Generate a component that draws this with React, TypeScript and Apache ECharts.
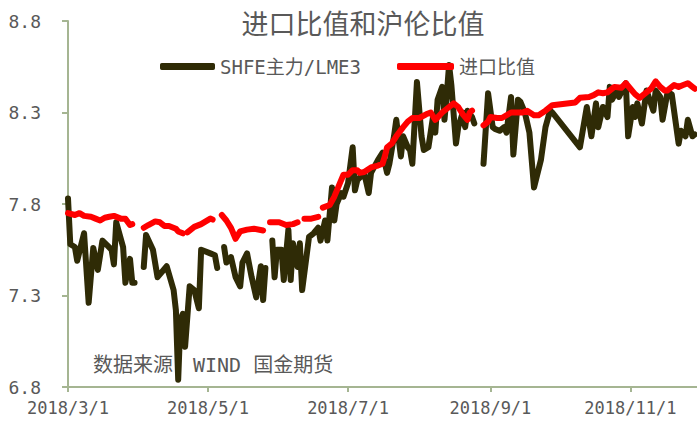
import React, { useEffect, useRef } from "react";
import * as echarts from "echarts";

const titleText = "进口比值和沪伦比值";
const sourceText = "数据来源：WIND 国金期货";
const seriesNames = ["SHFE主力/LME3", "进口比值"];
const xTickDates = ["2018-03-01", "2018-05-01", "2018-07-01", "2018-09-01", "2018-11-01"];
const xRange = ["2018-03-01", "2018-11-30"];
const yTicks = [6.8, 7.3, 7.8, 8.3, 8.8];

const darkDates = [
  "2018-03-01","2018-03-02","2018-03-04","2018-03-05","2018-03-08","2018-03-10","2018-03-12","2018-03-14","2018-03-16","2018-03-18",
  "2018-03-20","2018-03-21","2018-03-22","2018-03-25","2018-03-26","2018-03-28","2018-03-29","2018-03-30","2018-03-31",
  "2018-04-03","2018-04-04","2018-04-07","2018-04-09","2018-04-13","2018-04-16","2018-04-17","2018-04-18","2018-04-19","2018-04-20",
  "2018-04-21","2018-04-23","2018-04-25","2018-04-27","2018-04-28","2018-05-02","2018-05-04","2018-05-05","2018-05-06",
  "2018-05-08","2018-05-09","2018-05-11","2018-05-13","2018-05-15","2018-05-16","2018-05-18","2018-05-20","2018-05-22","2018-05-24",
  "2018-05-25","2018-05-26","2018-05-27",
  "2018-05-29","2018-05-30","2018-05-31","2018-06-02","2018-06-03","2018-06-05","2018-06-06","2018-06-07","2018-06-09","2018-06-10",
  "2018-06-11","2018-06-14","2018-06-16","2018-06-18","2018-06-19","2018-06-21","2018-06-22","2018-06-24","2018-06-25","2018-06-26",
  "2018-06-28","2018-06-29","2018-07-01","2018-07-03","2018-07-04","2018-07-05","2018-07-08","2018-07-10","2018-07-11","2018-07-14",
  "2018-07-16","2018-07-18","2018-07-19","2018-07-21","2018-07-22","2018-07-24","2018-07-25","2018-07-27","2018-07-28","2018-07-29",
  "2018-07-31","2018-08-02","2018-08-03","2018-08-05","2018-08-07","2018-08-08","2018-08-09","2018-08-11","2018-08-12","2018-08-13",
  "2018-08-14","2018-08-15","2018-08-17","2018-08-18","2018-08-20","2018-08-21","2018-08-22","2018-08-24","2018-08-25","2018-08-26",
  "2018-08-29","2018-08-31","2018-09-02","2018-09-03","2018-09-05","2018-09-07","2018-09-08","2018-09-10","2018-09-11","2018-09-13",
  "2018-09-14","2018-09-16","2018-09-18","2018-09-20","2018-09-23","2018-09-25","2018-09-27","2018-09-28","2018-10-10","2018-10-13",
  "2018-10-15","2018-10-17","2018-10-18","2018-10-20","2018-10-22","2018-10-23","2018-10-24","2018-10-26","2018-10-27","2018-10-30",
  "2018-10-31","2018-11-02","2018-11-03","2018-11-04","2018-11-06","2018-11-08","2018-11-11","2018-11-12","2018-11-14","2018-11-15",
  "2018-11-17","2018-11-18","2018-11-19","2018-11-22","2018-11-23","2018-11-25","2018-11-26","2018-11-28","2018-11-29"
];
const darkValues = [
  7.83,7.58,7.565,7.49,7.64,7.26,7.56,7.44,7.60,7.575,
  7.55,7.47,7.70,7.565,7.37,7.50,7.37,7.37,null,
  7.456,7.63,7.55,7.40,7.46,7.33,7.22,6.84,7.17,7.20,
  7.02,7.35,7.33,7.23,7.55,7.53,7.52,7.45,null,
  7.565,7.48,7.51,7.40,7.35,7.48,7.53,7.40,7.29,7.46,
  7.275,7.45,null,
  7.60,7.40,7.55,7.55,7.385,7.66,7.385,7.585,7.456,7.585,
  7.33,7.62,7.64,7.67,7.60,7.71,7.60,7.89,7.71,7.80,
  7.86,7.84,7.915,8.11,7.875,7.93,7.97,7.86,7.97,8.04,
  8.08,7.97,8.02,8.17,8.26,8.06,8.17,8.11,8.095,8.02,
  8.467,8.17,8.095,8.11,8.275,8.19,8.37,8.44,8.26,8.40,
  8.56,8.45,8.13,8.22,8.30,8.22,8.31,8.275,8.24,null,
  8.02,8.405,8.22,8.21,8.20,8.22,8.19,8.385,8.07,8.37,
  8.36,8.30,8.19,7.89,8.04,8.22,8.31,8.30,8.11,8.33,
  8.17,8.35,8.22,8.33,8.275,8.44,8.37,8.42,8.385,8.46,
  8.17,8.33,8.275,8.35,8.24,8.42,8.31,8.42,8.385,8.26,
  8.40,8.405,8.40,8.13,8.20,8.17,8.26,8.17,8.18
];

const redDates = [
  "2018-03-01","2018-03-04","2018-03-06","2018-03-08","2018-03-11","2018-03-13","2018-03-15","2018-03-17","2018-03-19","2018-03-21",
  "2018-03-24","2018-03-26","2018-03-28","2018-03-29","2018-03-31",
  "2018-04-03","2018-04-05","2018-04-08","2018-04-10","2018-04-12","2018-04-14","2018-04-17","2018-04-18","2018-04-20","2018-04-21",
  "2018-04-22","2018-04-25","2018-04-28","2018-04-30","2018-05-02","2018-05-03","2018-05-05",
  "2018-05-07","2018-05-09","2018-05-11","2018-05-13","2018-05-15","2018-05-18","2018-05-21","2018-05-25","2018-05-26",
  "2018-05-28","2018-06-01","2018-06-04","2018-06-07","2018-06-09","2018-06-10",
  "2018-06-12","2018-06-15","2018-06-18","2018-06-19",
  "2018-06-20","2018-06-23","2018-06-25","2018-06-28","2018-06-29","2018-07-01","2018-07-03","2018-07-05","2018-07-06","2018-07-08",
  "2018-07-11","2018-07-14","2018-07-16","2018-07-17","2018-07-18","2018-07-20","2018-07-22","2018-07-25","2018-07-27","2018-07-29",
  "2018-08-01","2018-08-04","2018-08-06","2018-08-08","2018-08-11","2018-08-14","2018-08-16","2018-08-18","2018-08-20","2018-08-22",
  "2018-08-23","2018-08-24","2018-08-26",
  "2018-08-29","2018-08-31","2018-09-01","2018-09-04","2018-09-06","2018-09-08","2018-09-10","2018-09-13","2018-09-15","2018-09-17",
  "2018-09-20","2018-09-22","2018-09-25","2018-09-28","2018-10-08","2018-10-10","2018-10-14","2018-10-16","2018-10-18","2018-10-20",
  "2018-10-22","2018-10-25","2018-10-28","2018-10-30","2018-11-01","2018-11-03","2018-11-05","2018-11-07","2018-11-10","2018-11-12",
  "2018-11-14","2018-11-16","2018-11-17","2018-11-20","2018-11-22","2018-11-24","2018-11-26","2018-11-28","2018-11-29"
];
const redValues = [
  7.75,7.74,7.75,7.735,7.73,7.72,7.71,7.725,7.73,7.735,
  7.72,7.72,7.685,7.69,null,
  7.67,7.685,7.705,7.70,7.68,7.68,7.665,7.65,7.64,null,
  7.645,7.675,7.69,7.705,7.72,7.715,null,
  7.74,7.71,7.67,7.61,7.65,7.66,7.665,7.655,null,
  7.70,7.70,7.685,7.69,7.70,null,
  7.72,7.72,7.73,null,
  7.78,7.795,7.84,7.93,7.96,7.96,7.985,7.985,7.97,7.975,
  8.00,8.01,8.02,8.06,8.11,8.13,8.17,8.22,8.25,8.27,
  8.27,8.29,8.30,8.26,8.30,8.33,8.35,8.33,8.29,8.26,
  8.30,8.31,null,
  8.23,8.25,8.275,8.27,8.27,8.285,8.30,8.30,8.30,8.31,
  8.285,8.285,8.31,8.34,8.355,8.38,8.385,8.395,8.41,8.405,
  8.41,8.44,8.435,8.46,8.43,8.40,8.38,8.40,8.43,8.47,
  8.44,8.42,8.42,8.45,8.44,8.45,8.46,8.44,8.43
];

const GRAY = "#595959";
const AXIS = "#A5B592";
const MONO = '"DejaVu Sans Mono", "Noto Sans CJK SC", monospace';

function toTs(s: string): number {
  const [y, m, d] = s.split("-").map(Number);
  return new Date(y, m - 1, d).getTime();
}
function fmtDate(v: number): string {
  const d = new Date(v);
  return `${d.getFullYear()}/${d.getMonth() + 1}/${d.getDate()}`;
}

export default function App() {
  const ref = useRef<HTMLDivElement>(null);
  useEffect(() => {
    if (!ref.current) return;
    const chart = echarts.init(ref.current, undefined, { renderer: "svg" });
    const tickTs = xTickDates.map(toTs);
    const mk = (dates: string[], vals: (number | null)[]) =>
      dates.map((d, i) => [toTs(d), vals[i] === null ? "-" : vals[i]]);
    const legendText = { color: GRAY, fontSize: 19, fontFamily: MONO };
    chart.setOption({
      animation: false,
      backgroundColor: "#ffffff",
      grid: { left: 68, right: 0, top: 21, bottom: 37, containLabel: false, outerBoundsMode: "none" },
      graphic: [
        {
          type: "text",
          x: 363,
          y: 22,
          z: 0,
          style: {
            text: titleText,
            fill: GRAY,
            fontSize: 27,
            fontFamily: '"Noto Sans CJK SC", sans-serif',
            align: "center",
            verticalAlign: "middle",
          },
        },
        {
          type: "text",
          x: 93,
          y: 365,
          z: 0,
          style: {
            text: sourceText,
            fill: GRAY,
            fontSize: 20,
            fontFamily: MONO,
            align: "left",
            verticalAlign: "middle",
          },
        },
      ],
      legend: [
        {
          data: [seriesNames[0]],
          left: 160,
          top: 57,
          padding: 0,
          itemWidth: 55,
          itemHeight: 7,
          icon: "roundRect",
          textStyle: legendText,
        },
        {
          data: [seriesNames[1]],
          left: 397,
          top: 57,
          padding: 0,
          itemWidth: 57,
          itemHeight: 7,
          icon: "roundRect",
          textStyle: legendText,
        },
      ],
      xAxis: {
        type: "value",
        min: toTs(xRange[0]),
        max: toTs(xRange[1]),
        axisLine: { show: true, onZero: false, lineStyle: { color: AXIS, width: 2 } },
        axisTick: { show: true, length: 5, lineStyle: { color: AXIS, width: 2 }, customValues: tickTs },
        axisLabel: {
          customValues: tickTs,
          formatter: (v: number) => fmtDate(v),
          color: GRAY,
          fontSize: 17,
          fontFamily: MONO,
          margin: 12,
          hideOverlap: false,
        },
        splitLine: { show: false },
      },
      yAxis: {
        type: "value",
        min: yTicks[0],
        max: yTicks[yTicks.length - 1],
        interval: 0.5,
        axisLine: { show: true, onZero: false, lineStyle: { color: AXIS, width: 2 } },
        axisTick: { show: true, length: 6, lineStyle: { color: AXIS, width: 2 } },
        axisLabel: {
          formatter: (v: number) => v.toFixed(1),
          color: GRAY,
          fontSize: 18,
          fontFamily: MONO,
          margin: 27,
        },
        splitLine: { show: false },
      },
      series: [
        {
          name: seriesNames[0],
          type: "line",
          data: mk(darkDates, darkValues),
          showSymbol: false,
          symbol: "none",
          connectNulls: false,
          itemStyle: { color: "#2F2B06" },
          lineStyle: { color: "#2F2B06", width: 6, join: "round", cap: "round" },
          z: 2,
        },
        {
          name: seriesNames[1],
          type: "line",
          data: mk(redDates, redValues),
          showSymbol: false,
          symbol: "none",
          connectNulls: false,
          itemStyle: { color: "#FF0000" },
          lineStyle: { color: "#FF0000", width: 6, join: "round", cap: "round" },
          z: 3,
        },
      ],
    });
    return () => chart.dispose();
  }, []);
  return (
    <div
      ref={ref}
      style={{ position: "fixed", left: 0, top: 0, width: 697, height: 424, background: "#fff" }}
    />
  );
}
